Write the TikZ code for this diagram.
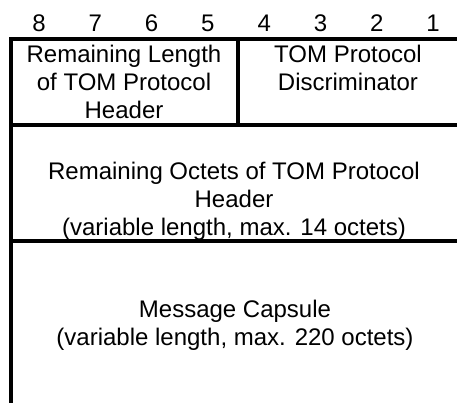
\documentclass[tikz,border=0pt]{standalone}
\usepackage{fontspec}
\setmainfont{Liberation Sans}

\begin{document}
\begin{tikzpicture}[x=1pt,y=-1pt,line width=4pt,
  bitnum/.style={inner sep=0pt,anchor=base,font=\fontsize{24}{28}\selectfont},
  field/.style={inner sep=0pt,align=center,font=\fontsize{24}{28}\selectfont}]
\useasboundingbox (0,0) rectangle (457,403);
\node[bitnum] (b8) at (39,32) {8};
\node[bitnum] (b7) at (95.3,32) {7};
\node[bitnum] (b6) at (151.6,32) {6};
\node[bitnum] (b5) at (207.9,32) {5};
\node[bitnum] (b4) at (264.2,32) {4};
\node[bitnum] (b3) at (320.5,32) {3};
\node[bitnum] (b2) at (376.8,32) {2};
\node[bitnum] (b1) at (433.1,32) {1};
\draw (462,39.5) -- (10.5,39.5) -- (10.5,406); % frame
\draw (237.5,39.5) -- (237.5,125.5);
\draw (10.5,125.5) -- (462,125.5);
\draw (10.5,240.5) -- (462,240.5);
\node[field] (remlen) at (124,82) {Remaining Length\\of TOM Protocol\\Header};
\node[field] (pd) at (348,68.3) {TOM Protocol\\Discriminator};
\node[field] (remoct) at (234,201) {Remaining Octets of TOM Protocol\\Header\\(variable length, max. 14 octets)};
\node[field] (capsule) at (235,325) {Message Capsule\\(variable length, max. 220 octets)};
\end{tikzpicture}
\end{document}
